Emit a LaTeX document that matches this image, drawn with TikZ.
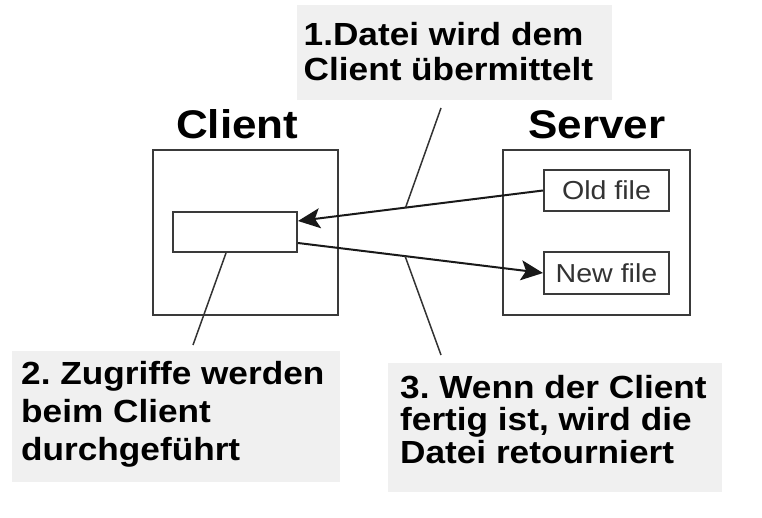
\documentclass[tikz,border=0pt]{standalone}
\usepackage{fontspec}
\setmainfont{Liberation Sans}
\newfontfamily\lblfont{Liberation Sans}[FakeStretch=1.1]
\usetikzlibrary{arrows.meta,calc}
\definecolor{labelgray}{HTML}{F0F0F0}
\definecolor{boxline}{HTML}{3A3A3A}
\definecolor{filetext}{HTML}{333333}
\frenchspacing
\begin{document}
\begin{tikzpicture}[x=1pt,y=-1pt,
  frame/.style={draw=boxline, line width=2pt, fill=white, inner sep=0pt},
  filebox/.style={frame, font=\lblfont\fontsize{26}{30}\selectfont, text=filetext},
  graybox/.style={fill=labelgray, draw=none, inner sep=0pt},
  lbl/.style={anchor=north west, inner sep=0pt, align=left, text=black},
  title/.style={anchor=base west, inner sep=0pt, font=\lblfont\bfseries\fontsize{40}{44}\selectfont},
  leader/.style={draw=black!80, line width=1.5pt},
  arr/.style={draw=black!90, line width=2pt, -{Stealth[length=22pt,width=20pt,inset=5pt]}}
]
\useasboundingbox (0,0) rectangle (762,518);

% label backgrounds
\node[graybox, minimum width=315pt, minimum height=95pt] (g1) at (454.5,52.5) {};
\node[graybox, minimum width=328pt, minimum height=131pt] (g2) at (176,416.5) {};
\node[graybox, minimum width=334pt, minimum height=129pt] (g3) at (555,427.5) {};

% label texts
\node[lbl, font=\lblfont\bfseries\fontsize{32}{35}\selectfont] (t1) at (303.5,22)
  {1.Datei wird dem\\Client übermittelt};
\node[lbl, font=\lblfont\bfseries\fontsize{32}{38}\selectfont] (t2) at (21,361)
  {2. Zugriffe werden\\beim Client\\durchgeführt};
\node[lbl, font=\lblfont\bfseries\fontsize{32}{32.5}\selectfont] (t3) at (400,375)
  {3. Wenn der Client\\fertig ist, wird die\\Datei retourniert};

% titles
\node[title] (ct) at (176,139) {Client};
\node[title] (st) at (528,139) {Server};

% machines
\node[frame, minimum width=185pt, minimum height=165pt] (client) at (245.5,232.5) {};
\node[frame, minimum width=187pt, minimum height=165pt] (server) at (596.5,232.5) {};

% files
\node[frame, minimum width=124pt, minimum height=40pt] (sb) at (235,232) {};
\node[filebox, minimum width=125pt, minimum height=41pt] (old) at (606.5,190.5) {Old file};
\node[filebox, minimum width=125pt, minimum height=42pt] (new) at (606.5,273) {New file};

% arrows
\draw[arr] (old.west) -- coordinate[pos=0.561] (a1) ($(sb.east)+(0,-11)$);
\draw[arr] ($(sb.east)+(0,11)$) -- coordinate[pos=0.437] (a3) (new.west);

% leaders
\coordinate (l1) at (441,108);
\coordinate (l2) at (193,345);
\coordinate (l3) at (441,355);
\draw[leader] (l1) -- (a1);
\draw[leader] ($(sb.south)+(-9,0)$) -- (l2);
\draw[leader] (a3) -- (l3);
\end{tikzpicture}
\end{document}
